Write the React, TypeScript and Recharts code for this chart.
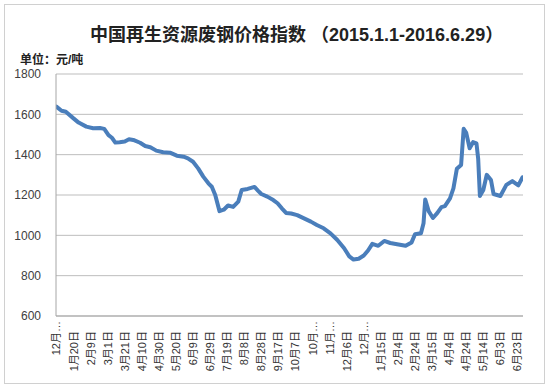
import React from "react";
import { LineChart, Line, XAxis, YAxis, CartesianGrid } from "recharts";

// Day offsets counted from 2014-12-31 and index values (元/吨)
const days = [
  0, 6, 11, 20, 26, 35, 43, 51, 56, 61, 65, 69, 74, 80, 85, 90, 98, 104, 110, 117,
  125, 133, 141, 149, 154, 160, 166, 172, 178, 182, 186, 191, 196, 201, 207, 213, 217, 224, 232, 236,
  240, 247, 254, 259, 264, 269, 275, 282, 290, 298, 305, 313, 321, 329, 337, 343, 348, 354, 360, 365,
  370, 377, 384, 391, 399, 409, 416, 420, 427, 430, 432, 436, 441, 446, 451, 455, 461, 465, 469, 474,
  477, 480, 484, 488, 492, 494, 496, 500, 504, 509, 512, 520, 527, 534, 541, 546,
];
const values = [
  1638, 1618, 1613, 1580, 1559, 1539, 1531, 1532, 1528, 1497, 1484, 1460, 1462, 1465, 1476, 1473, 1459, 1443, 1437, 1420,
  1412, 1410, 1395, 1390, 1382, 1365, 1332, 1291, 1258, 1241, 1200, 1120, 1127, 1148, 1141, 1167, 1225, 1230, 1240, 1222,
  1205, 1192, 1175, 1159, 1134, 1111, 1108, 1100, 1084, 1068, 1051, 1035, 1010, 977, 936, 896, 880, 884, 900, 925,
  958, 948, 972, 962, 956, 948, 965, 1005, 1010, 1060, 1178, 1120, 1086, 1110, 1140, 1145, 1183, 1233, 1330, 1349,
  1528, 1508, 1432, 1462, 1456, 1380, 1195, 1225, 1300, 1274, 1205, 1195, 1250, 1269, 1248, 1288,
];

const xTicks = [0, 20, 40, 60, 80, 100, 120, 140, 160, 180, 200, 220, 240, 260, 280, 300, 320, 340, 360, 380, 400, 420, 440, 460, 480, 500, 520, 540];
const xLabels = [
  "12月…", "1月20日", "2月9日", "3月1日", "3月21日", "4月10日", "4月30日", "5月20日", "6月9日", "6月29日",
  "7月19日", "8月8日", "8月28日", "9月17日", "10月7日", "10月…", "11月…", "12月6日", "12月…", "1月15日",
  "2月4日", "2月24日", "3月15日", "4月4日", "4月24日", "5月14日", "6月3日", "6月23日",
];
const yTicks = [600, 800, 1000, 1200, 1400, 1600, 1800];

const titleText = "中国再生资源废钢价格指数 （2015.1.1-2016.6.29）";
const unitText = "单位：元/吨";

const data = days.map((d, i) => ({ day: d, value: values[i] }));

const FONT = "'Liberation Sans', 'Noto Sans CJK SC', sans-serif";

const XTick = (props: any) => {
  const { x, y, payload } = props;
  const idx = xTicks.indexOf(payload.value);
  const label = idx >= 0 ? xLabels[idx] : "";
  const truncated = label.endsWith("…");
  const ty = y + (truncated ? 5 : 15);
  return (
    <text
      x={x}
      y={ty}
      transform={`rotate(-90 ${x} ${ty})`}
      textAnchor="end"
      dominantBaseline="central"
      fontSize={11}
      fill="#333333"
      fontFamily={FONT}
    >
      {label}
    </text>
  );
};

export default function App() {
  return (
    <div style={{ position: "absolute", left: 0, top: 0, width: 550, height: 390, background: "#fff" }}>
      <svg width={550} height={390} style={{ position: "absolute", left: 0, top: 0 }}>
        <rect x={4.5} y={4.5} width={540} height={379} fill="#fff" stroke="#d0d0d0" strokeWidth={1} />
        <text x={90} y={41} fontSize={18} fontWeight="bold" fill="#222" fontFamily={FONT}>
          {titleText}
        </text>
        <text x={20} y={64} fontSize={12} fontWeight="bold" fill="#222" fontFamily={FONT}>
          {unitText}
        </text>
      </svg>
      <div style={{ position: "absolute", left: 0, top: 0 }}>
        <LineChart
          width={550}
          height={390}
          data={data}
          margin={{ top: 74, right: 27, bottom: 14, left: 0 }}
        >
          <CartesianGrid vertical={false} stroke="#bdbdbd" strokeWidth={1} />
          <XAxis
            dataKey="day"
            type="number"
            domain={[-0.5, 546.5]}
            allowDataOverflow
            ticks={xTicks}
            interval={0}
            height={60}
            tickSize={0}
            tickMargin={0}
            tickLine={false}
            axisLine={{ stroke: "#a6a6a6" }}
            tick={<XTick />}
          />
          <YAxis
            type="number"
            domain={[600, 1800]}
            ticks={yTicks}
            interval={0}
            width={56}
            tickSize={0}
            tickMargin={15}
            tickLine={false}
            axisLine={{ stroke: "#a6a6a6" }}
            tick={{ fontSize: 12, fill: "#404040", fontFamily: FONT }}
          />
          <Line
            type="linear"
            dataKey="value"
            stroke="#4a7ebb"
            strokeWidth={4}
            strokeLinejoin="round"
            strokeLinecap="round"
            dot={false}
            isAnimationActive={false}
          />
        </LineChart>
      </div>
    </div>
  );
}
